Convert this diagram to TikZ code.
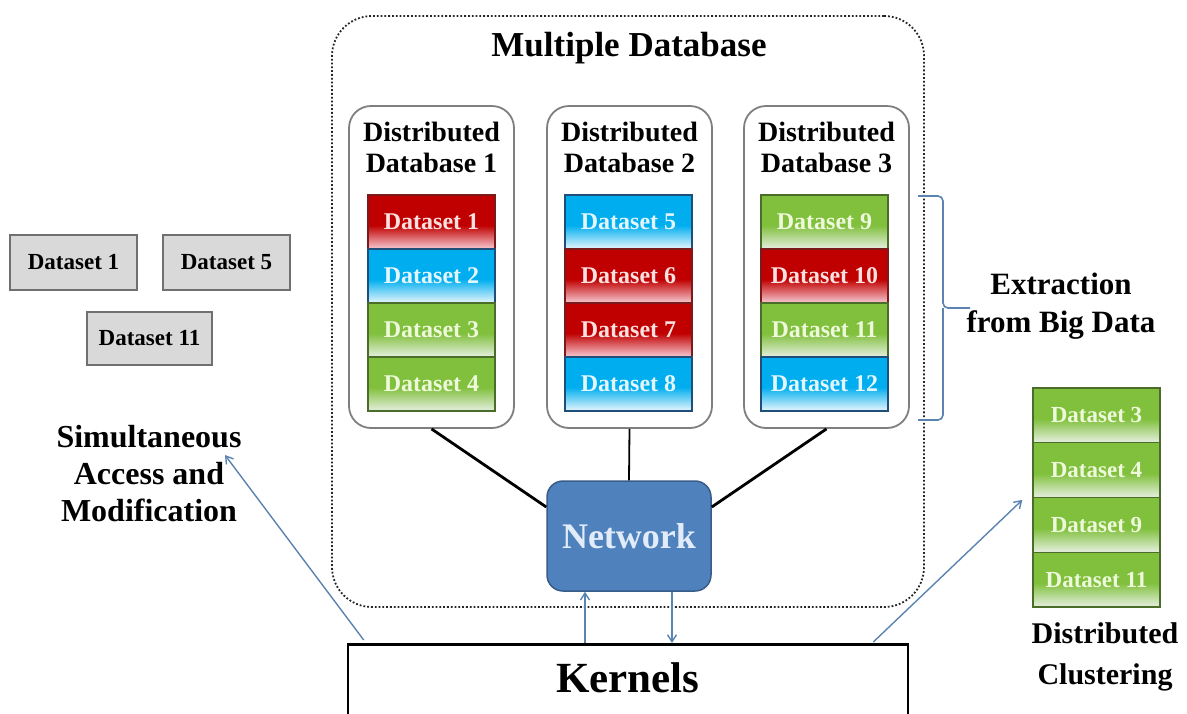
\documentclass[tikz,border=0pt]{standalone}
\usepackage{fontspec}
\setmainfont{Liberation Serif}
\usetikzlibrary{arrows.meta,calc}

% palette
\definecolor{redhi}{HTML}{C00000}
\definecolor{redlo}{HTML}{F2B8C0}
\definecolor{redline}{HTML}{7A1A1A}
\definecolor{redtext}{HTML}{FBE0E0}
\definecolor{bluehi}{HTML}{00AEEF}
\definecolor{bluelo}{HTML}{D4F0FB}
\definecolor{blueline}{HTML}{1F4E79}
\definecolor{bluetext}{HTML}{E4F6FD}
\definecolor{greenhi}{HTML}{80C03C}
\definecolor{greenlo}{HTML}{DDEBD2}
\definecolor{greenline}{HTML}{4A6E2A}
\definecolor{greentext}{HTML}{EEF9DC}
\definecolor{netfill}{HTML}{4F81BD}
\definecolor{netline}{HTML}{385D8A}
\definecolor{nettext}{HTML}{E2ECF8}
\definecolor{linkblue}{HTML}{5B84B1}
\definecolor{boxgray}{HTML}{D9D9D9}
\definecolor{boxline}{HTML}{707070}
\definecolor{frame}{HTML}{7F7F7F}

% bars: solid colour on top, fading to a pale tint at the bottom
\pgfdeclareverticalshading{redfade}{100bp}{color(0bp)=(redlo); color(27bp)=(redlo); color(47bp)=(redhi); color(100bp)=(redhi)}
\pgfdeclareverticalshading{bluefade}{100bp}{color(0bp)=(bluelo); color(27bp)=(bluelo); color(47bp)=(bluehi); color(100bp)=(bluehi)}
\pgfdeclareverticalshading{greenfade}{100bp}{color(0bp)=(greenlo); color(27bp)=(greenlo); color(47bp)=(greenhi); color(100bp)=(greenhi)}

\newcommand\setfs[2]{\fontsize{#1}{#2}\selectfont\bfseries}

\tikzset{
  bar/.style={minimum width=127pt, minimum height=54pt, inner sep=0pt, line width=1.3pt, font=\setfs{24}{28}},
  rbar/.style={bar, draw=redline, shade, shading=redfade, text=redtext},
  bbar/.style={bar, draw=blueline, shade, shading=bluefade, text=bluetext},
  gbar/.style={bar, draw=greenline, shade, shading=greenfade, text=greentext},
  dbbox/.style={draw=frame, line width=1.8pt, rounded corners=22pt, fill=white, minimum width=165pt, minimum height=322pt, inner sep=0pt},
  dbtitle/.style={align=center, font=\setfs{28}{31}},
  graybox/.style={draw=boxline, fill=boxgray, line width=1.8pt, minimum width=127pt, minimum height=55pt, inner sep=0pt, font=\setfs{23}{27}},
  label/.style={align=center, text=black},
  wire/.style={line width=2.8pt, black},
  link/.style={linkblue, line width=1.4pt, -{Straight Barb[length=7pt,width=9pt]}},
}

\begin{document}
\begin{tikzpicture}[x=1pt,y=-1pt]
\path[use as bounding box, clip] (0,0) rectangle (1187,713);
\fill[white] (0,0) rectangle (1187,713);

% multiple database frame
\node[draw=black!85, dotted, line width=1.8pt, rounded corners=40pt, minimum width=592pt, minimum height=591pt, inner sep=0pt] (mdb) at (628,311.5) {};
\node[label, font=\setfs{35}{40}] (mdbt) at (629,48) {Multiple Database};

% distributed databases
\node[dbbox] (db1) at (431.5,267) {};
\node[dbbox] (db2) at (629.5,267) {};
\node[dbbox] (db3) at (826.5,267) {};
\node[dbtitle] (db1t) at (431.5,147.5) {Distributed\\Database 1};
\node[dbtitle] (db2t) at (629.5,147.5) {Distributed\\Database 2};
\node[dbtitle] (db3t) at (826.5,147.5) {Distributed\\Database 3};

\node[rbar] (d1) at (431.5,222) {Dataset 1};
\node[bbar] (d2) at (431.5,276) {Dataset 2};
\node[gbar] (d3) at (431.5,330) {Dataset 3};
\node[gbar] (d4) at (431.5,384) {Dataset 4};

\node[bbar] (d5) at (628.5,222) {Dataset 5};
\node[rbar] (d6) at (628.5,276) {Dataset 6};
\node[rbar] (d7) at (628.5,330) {Dataset 7};
\node[bbar] (d8) at (628.5,384) {Dataset 8};

\node[gbar] (d9) at (824.5,222) {Dataset 9};
\node[rbar] (d10) at (824.5,276) {Dataset 10};
\node[gbar] (d11) at (824.5,330) {Dataset 11};
\node[bbar] (d12) at (824.5,384) {Dataset 12};

% network hub
\node[draw=netline, fill=netfill, line width=1.5pt, rounded corners=16pt, minimum width=164pt, minimum height=110pt, inner sep=0pt, text=nettext, font=\setfs{36}{40}] (net) at (629,536) {Network};
\draw[wire] (db1.south) -- ([yshift=29pt]net.west);
\draw[wire, line width=1.8pt] (db2.south) -- (net.north);
\draw[wire] (db3.south) -- ([yshift=29pt]net.east);

% kernels
\node[draw=black, line width=2.6pt, minimum width=560pt, inner sep=0pt, text height=48pt, text depth=42pt, anchor=north, font=\setfs{43}{48}] (kern) at (628,643) {Kernels};
\draw[link] ([xshift=-44pt]net.south |- kern.north) -- ([xshift=-44pt]net.south);
\draw[link] ([xshift=43pt]net.south) -- ([xshift=43pt]net.south |- kern.north);

% extraction bracket
\node[label, font=\setfs{31}{38}] (ext) at (1061,306) {Extraction\\from Big Data};
\draw[linkblue, line width=1.6pt, rounded corners=5pt] (918,196) -| (943,308) -- (970,308);
\draw[linkblue, line width=1.6pt, rounded corners=5pt] (918,420) -| (943,308);

% datasets gathered on the left
\node[graybox] (g1) at (73.5,262.5) {Dataset 1};
\node[graybox] (g5) at (226.5,262.5) {Dataset 5};
\node[graybox, minimum width=125pt, minimum height=53pt] (g11) at (149.5,338.5) {Dataset 11};
\node[label, font=\setfs{32}{37}] (sim) at (149,474) {Simultaneous\\Access and\\Modification};
\coordinate (simtip) at (225,455);
\draw[link] ([xshift=17pt, yshift=3pt]kern.north west) -- (simtip);

% distributed clustering result
\node[gbar, minimum height=54.75pt, font=\setfs{23}{27}] (c1) at (1096.5,415.4) {Dataset 3};
\node[gbar, minimum height=54.75pt, font=\setfs{23}{27}] (c2) at (1096.5,470.1) {Dataset 4};
\node[gbar, minimum height=54.75pt, font=\setfs{23}{27}] (c3) at (1096.5,524.9) {Dataset 9};
\node[gbar, minimum height=54.75pt, font=\setfs{23}{27}] (c4) at (1096.5,579.6) {Dataset 11};
\node[label, font=\setfs{30}{41}] (clu) at (1105,657) {Distributed\\Clustering};
\draw[link] ([xshift=-36pt, yshift=1pt]kern.north east) -- ([xshift=-10pt, yshift=-3pt]c3.north west);
\end{tikzpicture}
\end{document}
